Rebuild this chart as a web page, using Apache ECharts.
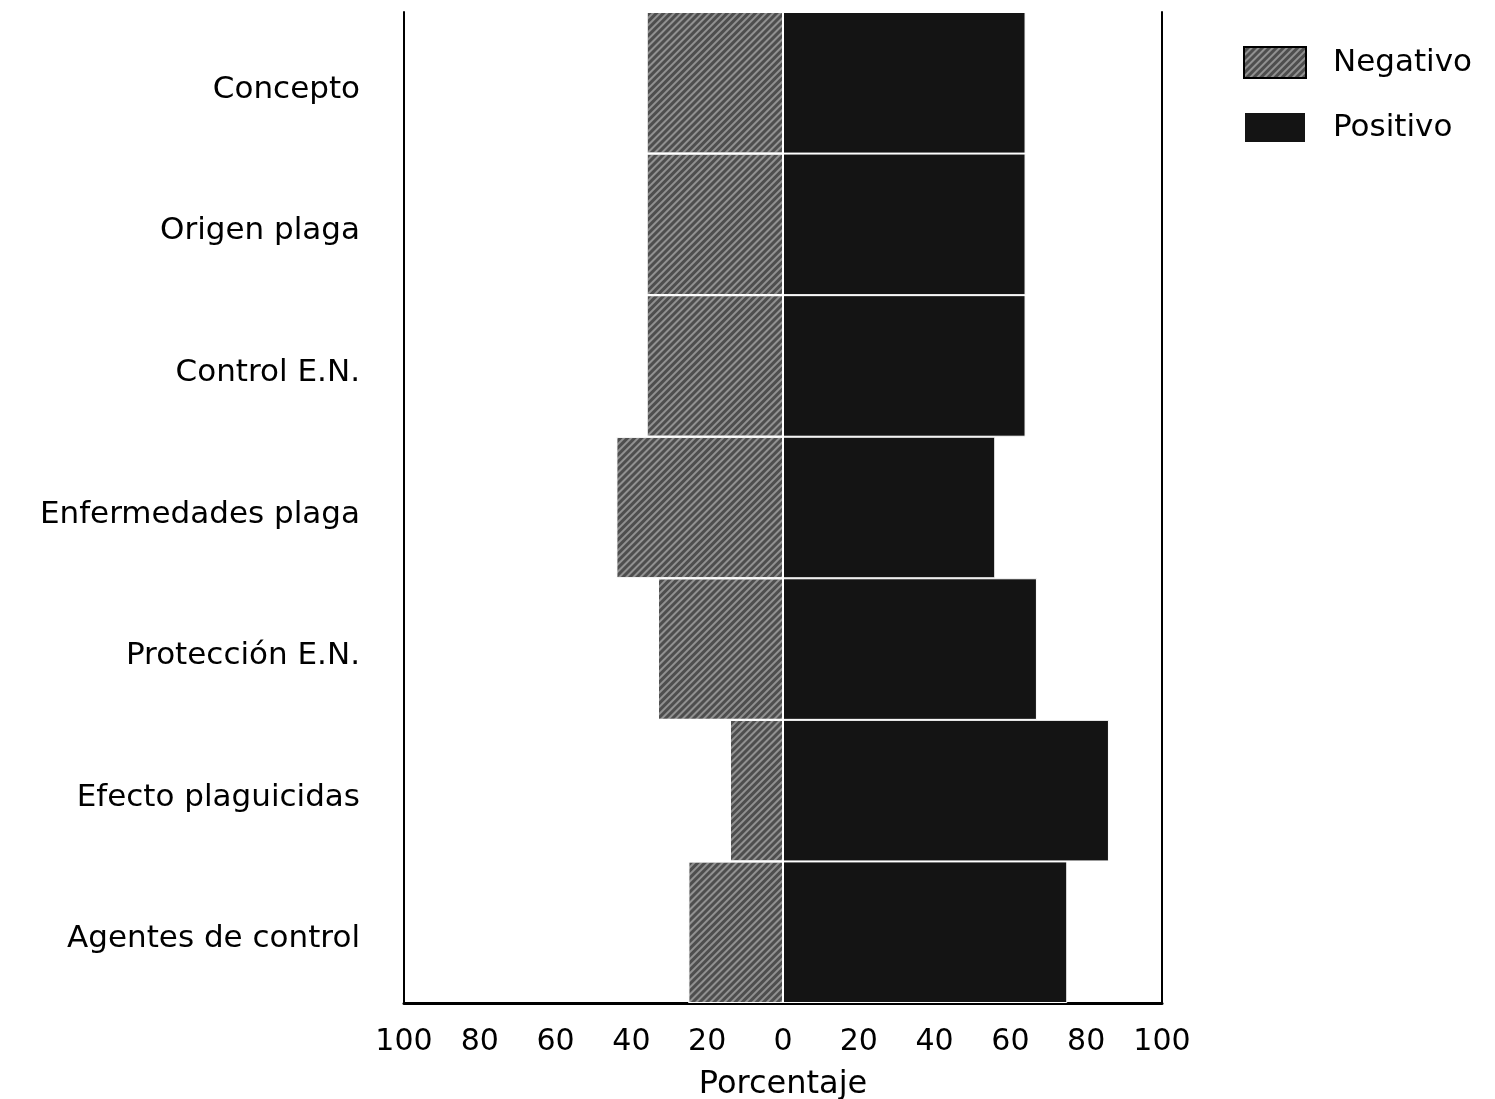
<!DOCTYPE html>
<html><head><meta charset="utf-8">
<script src="https://cdn.jsdelivr.net/npm/echarts@6/dist/echarts.min.js"></script>
<style>html,body{margin:0;padding:0;background:#fff}#c{width:1495px;height:1099px}</style>
</head><body><div id="c"></div>
<script>
const categories = ["Concepto","Origen plaga","Control E.N.","Enfermedades plaga","Protección E.N.","Efecto plaguicidas","Agentes de control"];
const negativo = [36, 36, 36, 44, 33, 14, 25];
const positivo = [64, 64, 64, 56, 67, 86, 75];
const xTicks = [-100,-80,-60,-40,-20,0,20,40,60,80,100];

const font = "DejaVu Sans";
const chart = echarts.init(document.getElementById('c'));
chart.setOption({
  backgroundColor:'#fff',
  animation:false,
  legend:{
    orient:'vertical', left:1238, top:41, itemWidth:62, itemHeight:31, itemGap:32,
    icon:'rect',
    textStyle:{fontFamily:font, fontSize:31, color:'#000', padding:[0,0,0,22]},
    data:[{name:'Negativo', itemStyle:{borderColor:'#000',borderWidth:2}},{name:'Positivo'}]
  },
  grid:{left:404, right:333, top:12, bottom:96, outerBoundsMode:'none', containLabel:false},
  xAxis:{
    type:'value', min:-100, max:100, interval:20,
    axisLine:{show:true, lineStyle:{color:'#000', width:3}},
    axisTick:{show:false}, splitLine:{show:false},
    axisLabel:{fontFamily:font, fontSize:30, color:'#000', margin:24,
      formatter:v=>xTicks.indexOf(v)>=0?String(Math.abs(v)):''},
    name:'Porcentaje', nameLocation:'middle', nameGap:66,
    nameTextStyle:{fontFamily:font, fontSize:32, color:'#000'}
  },
  yAxis:[{
    type:'category', data:categories, inverse:true,
    axisLine:{show:true, onZero:false, lineStyle:{color:'#000', width:2}},
    axisTick:{show:false},
    axisLabel:{margin:44, formatter:v=>'{a|'+v+'}',
      rich:{a:{fontFamily:font, fontSize:31, color:'#000', padding:[14,0,0,0]}}}
  },{
    type:'category', data:categories, inverse:true, position:'right',
    axisLine:{show:true, onZero:false, lineStyle:{color:'#000', width:2}},
    axisTick:{show:false}, axisLabel:{show:false}
  }],
  series:[{
    name:'Negativo', type:'bar', stack:'t', barCategoryGap:'0%',
    data:negativo.map(v=>-v),
    itemStyle:{color:'#4e4e4e', borderColor:'#fff', borderWidth:1,
      decal:{symbol:'rect', symbolSize:1, dashArrayX:[1,0], dashArrayY:[2,3], rotation:-Math.PI/4, color:'rgba(190,190,190,0.6)'}},
    markLine:{silent:true, symbol:'none', label:{show:false},
      lineStyle:{color:'#fff', width:2, type:'solid'}, data:[{xAxis:0}]}
  },{
    name:'Positivo', type:'bar', stack:'t', barCategoryGap:'0%',
    data:positivo,
    itemStyle:{color:'#141414', borderColor:'#fff', borderWidth:1}
  }]
});
</script></body></html>
